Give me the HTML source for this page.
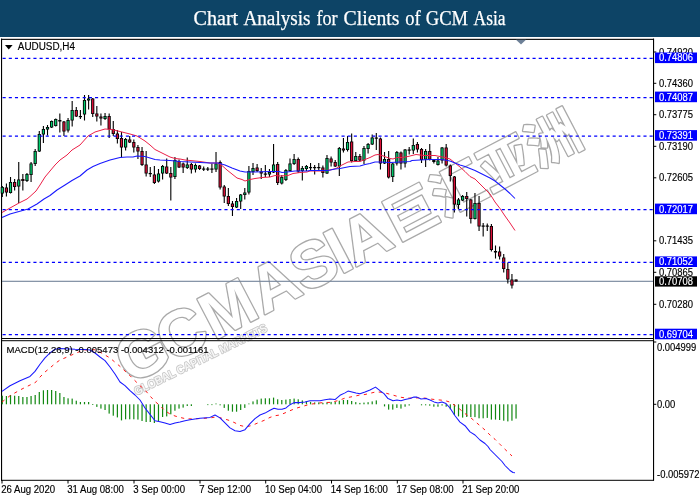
<!DOCTYPE html>
<html lang="en"><head><meta charset="utf-8"><title>Chart Analysis for Clients of GCM Asia</title>
<style>
html,body{margin:0;padding:0;background:#fff;}
body{width:700px;height:500px;position:relative;overflow:hidden;font-family:"Liberation Sans",sans-serif;}
#hdr{position:absolute;left:0;top:0;width:700px;height:36.8px;background:#0d4466;}
svg{position:absolute;left:0;top:0;}
.t{font-family:"Liberation Sans",sans-serif;font-size:9.45px;fill:#000;stroke:#000;stroke-width:0.15px;}
.w{font-family:"Liberation Sans",sans-serif;font-size:9.45px;fill:#fff;stroke:#fff;stroke-width:0.15px;}
</style></head><body>
<div id="hdr"></div>
<svg width="700" height="500" viewBox="0 0 700 500">

<text y="25" fill="#fff" stroke="#fff" stroke-width="0.25" style="font-family:'Liberation Serif',serif;font-size:20px"><tspan x="193.6" textLength="44.6" lengthAdjust="spacingAndGlyphs">Chart</tspan> <tspan x="243.4" textLength="67.2" lengthAdjust="spacingAndGlyphs">Analysis</tspan> <tspan x="316.5" textLength="21.1" lengthAdjust="spacingAndGlyphs">for</tspan> <tspan x="343.6" textLength="55.9" lengthAdjust="spacingAndGlyphs">Clients</tspan> <tspan x="405.2" textLength="15.4" lengthAdjust="spacingAndGlyphs">of</tspan> <tspan x="425.8" textLength="42.2" lengthAdjust="spacingAndGlyphs">GCM</tspan> <tspan x="473.6" textLength="32.0" lengthAdjust="spacingAndGlyphs">Asia</tspan></text>
<defs><filter id="soft" x="-5%" y="-5%" width="110%" height="110%"><feGaussianBlur stdDeviation="0.55"/></filter></defs>
<g filter="url(#soft)">
<g transform="matrix(0.8862 -0.4633 0.4633 0.8862 152.4 374.3)" font-family="'Liberation Sans','Noto Sans CJK SC',sans-serif" font-weight="bold" stroke-linejoin="round" fill="#fff" stroke="#a9a9a9" stroke-width="2.6" paint-order="stroke">
<text x="-24.8 21.4 70.4 125.9 172.4 212.8 229.1" y="-1" font-size="64.8">GCMASIA</text>
<text x="276.8 330.5 384.2 437.9" y="-4" font-size="53">巨汇亚洲</text>
</g>
<g transform="matrix(0.8973 -0.4415 0.4415 0.8973 152.4 374.3)" font-family="'Liberation Sans','Noto Sans CJK SC',sans-serif" font-weight="bold" stroke-linejoin="round" fill="#f6f6f6" stroke="#c4c4c4" stroke-width="1.6" paint-order="stroke">
<text x="-23.5" y="12" font-size="11.6" textLength="146.5" lengthAdjust="spacingAndGlyphs">GLOBAL CAPITAL MARKETS</text>
</g></g>
<g fill="#000">
<rect x="1" y="38.8" width="653" height="1.1"/>
<rect x="1" y="38.6" width="1.1" height="442"/>
<rect x="653" y="38.6" width="1.1" height="442"/>
<rect x="1" y="338" width="653" height="1"/>
<rect x="1" y="340.2" width="653" height="1"/>
<rect x="1" y="479.8" width="653" height="1"/>
</g>
<path d="M516 39.7 L526 39.7 L521 44.6 Z" fill="#6d8097"/>
<path d="M5 45 L12.6 45 L8.8 49.6 Z" fill="#000"/>
<text class="t" x="17.8" y="50.3" textLength="57.2" lengthAdjust="spacingAndGlyphs" style="font-size:10px">AUDUSD,H4</text>
<rect x="654" y="51.5" width="2.3" height="1" fill="#000"/>
<text class="t" transform="translate(659.00 55.60) scale(0.945 1)" style="font-size:10.0px">0.74920</text>
<rect x="654" y="82.8" width="2.3" height="1" fill="#000"/>
<text class="t" transform="translate(659.00 86.90) scale(0.945 1)" style="font-size:10.0px">0.74360</text>
<rect x="654" y="114.2" width="2.3" height="1" fill="#000"/>
<text class="t" transform="translate(659.00 118.30) scale(0.945 1)" style="font-size:10.0px">0.73775</text>
<rect x="654" y="145.8" width="2.3" height="1" fill="#000"/>
<text class="t" transform="translate(659.00 149.90) scale(0.945 1)" style="font-size:10.0px">0.73190</text>
<rect x="654" y="177.3" width="2.3" height="1" fill="#000"/>
<text class="t" transform="translate(659.00 181.40) scale(0.945 1)" style="font-size:10.0px">0.72605</text>
<rect x="654" y="240.3" width="2.3" height="1" fill="#000"/>
<text class="t" transform="translate(659.00 244.40) scale(0.945 1)" style="font-size:10.0px">0.71435</text>
<rect x="654" y="271.8" width="2.3" height="1" fill="#000"/>
<text class="t" transform="translate(659.00 275.90) scale(0.945 1)" style="font-size:10.0px">0.70865</text>
<rect x="654" y="303.8" width="2.3" height="1" fill="#000"/>
<text class="t" transform="translate(659.00 307.90) scale(0.945 1)" style="font-size:10.0px">0.70280</text>
<rect x="654" y="341.5" width="2.3" height="1" fill="#000"/>
<text class="t" transform="translate(657.00 351.10) scale(0.945 1)" style="font-size:10.0px">0.004999</text>
<rect x="654" y="403.8" width="2.3" height="1" fill="#000"/>
<text class="t" transform="translate(657.00 408.10) scale(0.945 1)" style="font-size:10.0px">0.00</text>
<text class="t" transform="translate(657.00 478.10) scale(0.945 1)" style="font-size:10.0px">-0.005972</text>
<rect x="655" y="52.50" width="42" height="10.6" fill="#0000ff"/>
<text class="w" transform="translate(659.00 61.45) scale(0.945 1)" style="font-size:10.0px">0.74806</text>
<rect x="655" y="91.60" width="42" height="10.6" fill="#0000ff"/>
<text class="w" transform="translate(659.00 100.55) scale(0.945 1)" style="font-size:10.0px">0.74087</text>
<rect x="655" y="130.10" width="42" height="10.6" fill="#0000ff"/>
<text class="w" transform="translate(659.00 139.05) scale(0.945 1)" style="font-size:10.0px">0.73391</text>
<rect x="655" y="203.60" width="42" height="10.6" fill="#0000ff"/>
<text class="w" transform="translate(659.00 212.55) scale(0.945 1)" style="font-size:10.0px">0.72017</text>
<rect x="655" y="256.40" width="42" height="10.6" fill="#0000ff"/>
<text class="w" transform="translate(659.00 265.35) scale(0.945 1)" style="font-size:10.0px">0.71052</text>
<rect x="655" y="328.70" width="42" height="10.6" fill="#0000ff"/>
<text class="w" transform="translate(659.00 337.65) scale(0.945 1)" style="font-size:10.0px">0.69704</text>
<rect x="655" y="276.3" width="42" height="10.3" fill="#000"/>
<text class="w" transform="translate(659.00 285.00) scale(0.945 1)" style="font-size:10.0px">0.70708</text>
<rect x="1.5" y="480" width="1" height="3.5" fill="#000"/>
<text class="t" transform="translate(1.20 492.60) scale(0.962 1)" style="font-size:10.0px">26 Aug 2020</text>
<rect x="67.5" y="480" width="1" height="3.5" fill="#000"/>
<text class="t" transform="translate(67.20 492.60) scale(0.962 1)" style="font-size:10.0px">31 Aug 08:00</text>
<rect x="133.5" y="480" width="1" height="3.5" fill="#000"/>
<text class="t" transform="translate(133.20 492.60) scale(0.962 1)" style="font-size:10.0px">3 Sep 00:00</text>
<rect x="199.5" y="480" width="1" height="3.5" fill="#000"/>
<text class="t" transform="translate(199.20 492.60) scale(0.962 1)" style="font-size:10.0px">7 Sep 12:00</text>
<rect x="265.2" y="480" width="1" height="3.5" fill="#000"/>
<text class="t" transform="translate(264.90 492.60) scale(0.962 1)" style="font-size:10.0px">10 Sep 04:00</text>
<rect x="331.0" y="480" width="1" height="3.5" fill="#000"/>
<text class="t" transform="translate(330.70 492.60) scale(0.962 1)" style="font-size:10.0px">14 Sep 16:00</text>
<rect x="396.8" y="480" width="1" height="3.5" fill="#000"/>
<text class="t" transform="translate(396.50 492.60) scale(0.962 1)" style="font-size:10.0px">17 Sep 08:00</text>
<rect x="462.5" y="480" width="1" height="3.5" fill="#000"/>
<text class="t" transform="translate(462.20 492.60) scale(0.962 1)" style="font-size:10.0px">21 Sep 20:00</text>
<rect x="2" y="280.75" width="651" height="1.1" fill="#73839a"/>
<rect x="1.75" y="186" width="1.1" height="11" fill="#000"/>
<rect x="0.7" y="187" width="3.2" height="6.5" fill="#000"/>
<rect x="1.6" y="187.8" width="1.4" height="4.9" fill="#00d070"/>
<rect x="5.86" y="183.5" width="1.1" height="13" fill="#000"/>
<rect x="4.81" y="187.5" width="3.2" height="5" fill="#000"/>
<rect x="5.71" y="188.3" width="1.4" height="3.4" fill="#dc1038"/>
<rect x="9.97" y="177" width="1.1" height="16.5" fill="#000"/>
<rect x="8.92" y="182" width="3.2" height="11" fill="#000"/>
<rect x="9.82" y="182.8" width="1.4" height="9.4" fill="#00d070"/>
<rect x="14.08" y="179" width="1.1" height="11.5" fill="#000"/>
<rect x="13.03" y="182" width="3.2" height="5" fill="#000"/>
<rect x="13.93" y="182.8" width="1.4" height="3.4" fill="#dc1038"/>
<rect x="18.19" y="162" width="1.1" height="41" fill="#000"/>
<rect x="17.14" y="179.5" width="3.2" height="7" fill="#000"/>
<rect x="18.04" y="180.3" width="1.4" height="5.4" fill="#00d070"/>
<rect x="22.3" y="174" width="1.1" height="16.5" fill="#000"/>
<rect x="21.25" y="179" width="3.2" height="2" fill="#000"/>
<rect x="22.15" y="179.8" width="1.4" height="0.4" fill="#dc1038"/>
<rect x="26.41" y="173" width="1.1" height="9" fill="#000"/>
<rect x="25.36" y="174" width="3.2" height="7" fill="#000"/>
<rect x="26.26" y="174.8" width="1.4" height="5.4" fill="#00d070"/>
<rect x="30.52" y="162" width="1.1" height="20" fill="#000"/>
<rect x="29.47" y="163.5" width="3.2" height="11.5" fill="#000"/>
<rect x="30.37" y="164.3" width="1.4" height="9.9" fill="#00d070"/>
<rect x="34.63" y="149" width="1.1" height="17" fill="#000"/>
<rect x="33.58" y="151" width="3.2" height="13" fill="#000"/>
<rect x="34.48" y="151.8" width="1.4" height="11.4" fill="#00d070"/>
<rect x="38.74" y="131" width="1.1" height="21" fill="#000"/>
<rect x="37.69" y="134" width="3.2" height="17.5" fill="#000"/>
<rect x="38.59" y="134.8" width="1.4" height="15.9" fill="#00d070"/>
<rect x="42.85" y="126" width="1.1" height="17" fill="#000"/>
<rect x="41.8" y="129" width="3.2" height="5.5" fill="#000"/>
<rect x="42.7" y="129.8" width="1.4" height="3.9" fill="#00d070"/>
<rect x="46.96" y="125" width="1.1" height="10.5" fill="#000"/>
<rect x="45.91" y="127" width="3.2" height="2.5" fill="#000"/>
<rect x="46.81" y="127.8" width="1.4" height="0.9" fill="#00d070"/>
<rect x="51.07" y="120.5" width="1.1" height="7.5" fill="#000"/>
<rect x="50.02" y="121" width="3.2" height="6.5" fill="#000"/>
<rect x="50.92" y="121.8" width="1.4" height="4.9" fill="#00d070"/>
<rect x="55.18" y="118.5" width="1.1" height="8" fill="#000"/>
<rect x="54.13" y="119" width="3.2" height="7" fill="#000"/>
<rect x="55.03" y="119.8" width="1.4" height="5.4" fill="#00d070"/>
<rect x="59.29" y="113.5" width="1.1" height="19" fill="#000"/>
<rect x="58.24" y="120" width="3.2" height="1.5" fill="#000"/>
<rect x="63.4" y="121" width="1.1" height="15" fill="#000"/>
<rect x="62.35" y="121.5" width="3.2" height="10" fill="#000"/>
<rect x="63.25" y="122.3" width="1.4" height="8.4" fill="#dc1038"/>
<rect x="67.51" y="118" width="1.1" height="14.5" fill="#000"/>
<rect x="66.46" y="120" width="3.2" height="10.5" fill="#000"/>
<rect x="67.36" y="120.8" width="1.4" height="8.9" fill="#00d070"/>
<rect x="71.62" y="101" width="1.1" height="25.5" fill="#000"/>
<rect x="70.57" y="110" width="3.2" height="10.5" fill="#000"/>
<rect x="71.47" y="110.8" width="1.4" height="8.9" fill="#00d070"/>
<rect x="75.73" y="107" width="1.1" height="10" fill="#000"/>
<rect x="74.68" y="110" width="3.2" height="6.5" fill="#000"/>
<rect x="75.58" y="110.8" width="1.4" height="4.9" fill="#dc1038"/>
<rect x="79.84" y="110" width="1.1" height="9" fill="#000"/>
<rect x="78.79" y="116" width="3.2" height="1.2" fill="#000"/>
<rect x="83.95" y="95" width="1.1" height="25.5" fill="#000"/>
<rect x="82.9" y="100" width="3.2" height="14.5" fill="#000"/>
<rect x="83.8" y="100.8" width="1.4" height="12.9" fill="#00d070"/>
<rect x="88.06" y="95" width="1.1" height="14.5" fill="#000"/>
<rect x="87.01" y="98.5" width="3.2" height="2" fill="#000"/>
<rect x="87.91" y="99.3" width="1.4" height="0.4" fill="#00d070"/>
<rect x="92.17" y="98" width="1.1" height="19" fill="#000"/>
<rect x="91.12" y="98.5" width="3.2" height="15.5" fill="#000"/>
<rect x="92.02" y="99.3" width="1.4" height="13.9" fill="#dc1038"/>
<rect x="96.28" y="106" width="1.1" height="15.5" fill="#000"/>
<rect x="95.23" y="113.5" width="3.2" height="3" fill="#000"/>
<rect x="96.13" y="114.3" width="1.4" height="1.4" fill="#dc1038"/>
<rect x="100.39" y="113.5" width="1.1" height="12" fill="#000"/>
<rect x="99.34" y="116.5" width="3.2" height="2" fill="#000"/>
<rect x="100.24" y="117.3" width="1.4" height="0.4" fill="#dc1038"/>
<rect x="104.5" y="113" width="1.1" height="7" fill="#000"/>
<rect x="103.45" y="116" width="3.2" height="3" fill="#000"/>
<rect x="104.35" y="116.8" width="1.4" height="1.4" fill="#00d070"/>
<rect x="108.61" y="113.5" width="1.1" height="24.5" fill="#000"/>
<rect x="107.56" y="116" width="3.2" height="13.5" fill="#000"/>
<rect x="108.46" y="116.8" width="1.4" height="11.9" fill="#dc1038"/>
<rect x="112.72" y="121" width="1.1" height="15" fill="#000"/>
<rect x="111.67" y="129" width="3.2" height="5" fill="#000"/>
<rect x="112.57" y="129.8" width="1.4" height="3.4" fill="#dc1038"/>
<rect x="116.83" y="130" width="1.1" height="13.5" fill="#000"/>
<rect x="115.78" y="133.5" width="3.2" height="5.5" fill="#000"/>
<rect x="116.68" y="134.3" width="1.4" height="3.9" fill="#dc1038"/>
<rect x="120.94" y="132" width="1.1" height="25.5" fill="#000"/>
<rect x="119.89" y="138" width="3.2" height="9.5" fill="#000"/>
<rect x="120.79" y="138.8" width="1.4" height="7.9" fill="#dc1038"/>
<rect x="125.05" y="138" width="1.1" height="12.5" fill="#000"/>
<rect x="124" y="139" width="3.2" height="8.5" fill="#000"/>
<rect x="124.9" y="139.8" width="1.4" height="6.9" fill="#00d070"/>
<rect x="129.16" y="136" width="1.1" height="7" fill="#000"/>
<rect x="128.11" y="139.5" width="3.2" height="3" fill="#000"/>
<rect x="129.01" y="140.3" width="1.4" height="1.4" fill="#dc1038"/>
<rect x="133.27" y="139.5" width="1.1" height="13" fill="#000"/>
<rect x="132.22" y="142" width="3.2" height="5.5" fill="#000"/>
<rect x="133.12" y="142.8" width="1.4" height="3.9" fill="#dc1038"/>
<rect x="137.38" y="145" width="1.1" height="14" fill="#000"/>
<rect x="136.33" y="147" width="3.2" height="4.5" fill="#000"/>
<rect x="137.23" y="147.8" width="1.4" height="2.9" fill="#dc1038"/>
<rect x="141.49" y="147" width="1.1" height="19" fill="#000"/>
<rect x="140.44" y="151" width="3.2" height="14" fill="#000"/>
<rect x="141.34" y="151.8" width="1.4" height="12.4" fill="#dc1038"/>
<rect x="145.6" y="151" width="1.1" height="25.5" fill="#000"/>
<rect x="144.55" y="164.5" width="3.2" height="9" fill="#000"/>
<rect x="145.45" y="165.3" width="1.4" height="7.4" fill="#dc1038"/>
<rect x="149.71" y="167" width="1.1" height="10" fill="#000"/>
<rect x="148.66" y="173" width="3.2" height="1.2" fill="#000"/>
<rect x="153.82" y="166" width="1.1" height="18" fill="#000"/>
<rect x="152.77" y="174.5" width="3.2" height="8.5" fill="#000"/>
<rect x="153.67" y="175.3" width="1.4" height="6.9" fill="#dc1038"/>
<rect x="157.93" y="169" width="1.1" height="13.5" fill="#000"/>
<rect x="156.88" y="173.5" width="3.2" height="8" fill="#000"/>
<rect x="157.78" y="174.3" width="1.4" height="6.4" fill="#00d070"/>
<rect x="162.04" y="165" width="1.1" height="14.5" fill="#000"/>
<rect x="160.99" y="166" width="3.2" height="7.5" fill="#000"/>
<rect x="161.89" y="166.8" width="1.4" height="5.9" fill="#00d070"/>
<rect x="166.15" y="158.5" width="1.1" height="15.5" fill="#000"/>
<rect x="165.1" y="166.5" width="3.2" height="7" fill="#000"/>
<rect x="166" y="167.3" width="1.4" height="5.4" fill="#dc1038"/>
<rect x="170.26" y="167" width="1.1" height="33.5" fill="#000"/>
<rect x="169.21" y="173" width="3.2" height="4.5" fill="#000"/>
<rect x="170.11" y="173.8" width="1.4" height="2.9" fill="#dc1038"/>
<rect x="174.37" y="157" width="1.1" height="22" fill="#000"/>
<rect x="173.32" y="160" width="3.2" height="17" fill="#000"/>
<rect x="174.22" y="160.8" width="1.4" height="15.4" fill="#00d070"/>
<rect x="178.48" y="159.5" width="1.1" height="8.5" fill="#000"/>
<rect x="177.43" y="161" width="3.2" height="6.5" fill="#000"/>
<rect x="178.33" y="161.8" width="1.4" height="4.9" fill="#dc1038"/>
<rect x="182.59" y="162.5" width="1.1" height="10.5" fill="#000"/>
<rect x="181.54" y="163.5" width="3.2" height="4" fill="#000"/>
<rect x="182.44" y="164.3" width="1.4" height="2.4" fill="#dc1038"/>
<rect x="186.7" y="157.5" width="1.1" height="11.5" fill="#000"/>
<rect x="185.65" y="164.5" width="3.2" height="3.5" fill="#000"/>
<rect x="186.55" y="165.3" width="1.4" height="1.9" fill="#00d070"/>
<rect x="190.81" y="163" width="1.1" height="10.5" fill="#000"/>
<rect x="189.76" y="164" width="3.2" height="5.5" fill="#000"/>
<rect x="190.66" y="164.8" width="1.4" height="3.9" fill="#dc1038"/>
<rect x="194.92" y="163.5" width="1.1" height="9" fill="#000"/>
<rect x="193.87" y="165" width="3.2" height="4.5" fill="#000"/>
<rect x="194.77" y="165.8" width="1.4" height="2.9" fill="#00d070"/>
<rect x="199.03" y="165" width="1.1" height="5" fill="#000"/>
<rect x="197.98" y="165.5" width="3.2" height="3.5" fill="#000"/>
<rect x="198.88" y="166.3" width="1.4" height="1.9" fill="#dc1038"/>
<rect x="203.14" y="166.5" width="1.1" height="4.5" fill="#000"/>
<rect x="202.09" y="168.5" width="3.2" height="1.2" fill="#000"/>
<rect x="207.25" y="167" width="1.1" height="4" fill="#000"/>
<rect x="206.2" y="168.5" width="3.2" height="1.2" fill="#000"/>
<rect x="211.36" y="163.5" width="1.1" height="9.5" fill="#000"/>
<rect x="210.31" y="168.5" width="3.2" height="1.2" fill="#000"/>
<rect x="215.47" y="152" width="1.1" height="20" fill="#000"/>
<rect x="214.42" y="163.5" width="3.2" height="6" fill="#000"/>
<rect x="215.32" y="164.3" width="1.4" height="4.4" fill="#00d070"/>
<rect x="219.58" y="160.5" width="1.1" height="29" fill="#000"/>
<rect x="218.53" y="162" width="3.2" height="25.5" fill="#000"/>
<rect x="219.43" y="162.8" width="1.4" height="23.9" fill="#dc1038"/>
<rect x="223.69" y="185" width="1.1" height="18" fill="#000"/>
<rect x="222.64" y="186.5" width="3.2" height="10" fill="#000"/>
<rect x="223.54" y="187.3" width="1.4" height="8.4" fill="#dc1038"/>
<rect x="227.8" y="188" width="1.1" height="18" fill="#000"/>
<rect x="226.75" y="196" width="3.2" height="8" fill="#000"/>
<rect x="227.65" y="196.8" width="1.4" height="6.4" fill="#dc1038"/>
<rect x="231.91" y="201" width="1.1" height="15" fill="#000"/>
<rect x="230.86" y="203.5" width="3.2" height="3.5" fill="#000"/>
<rect x="231.76" y="204.3" width="1.4" height="1.9" fill="#dc1038"/>
<rect x="236.02" y="198" width="1.1" height="10" fill="#000"/>
<rect x="234.97" y="201" width="3.2" height="6.5" fill="#000"/>
<rect x="235.87" y="201.8" width="1.4" height="4.9" fill="#00d070"/>
<rect x="240.13" y="194" width="1.1" height="15" fill="#000"/>
<rect x="239.08" y="194.5" width="3.2" height="7" fill="#000"/>
<rect x="239.98" y="195.3" width="1.4" height="5.4" fill="#00d070"/>
<rect x="244.24" y="188" width="1.1" height="11.5" fill="#000"/>
<rect x="243.19" y="192.5" width="3.2" height="2.5" fill="#000"/>
<rect x="244.09" y="193.3" width="1.4" height="0.9" fill="#00d070"/>
<rect x="248.35" y="166" width="1.1" height="28.5" fill="#000"/>
<rect x="247.3" y="171" width="3.2" height="21.5" fill="#000"/>
<rect x="248.2" y="171.8" width="1.4" height="19.9" fill="#00d070"/>
<rect x="252.46" y="163" width="1.1" height="12" fill="#000"/>
<rect x="251.41" y="168" width="3.2" height="4" fill="#000"/>
<rect x="252.31" y="168.8" width="1.4" height="2.4" fill="#00d070"/>
<rect x="256.57" y="164" width="1.1" height="8" fill="#000"/>
<rect x="255.52" y="167.5" width="3.2" height="3.5" fill="#000"/>
<rect x="256.42" y="168.3" width="1.4" height="1.9" fill="#dc1038"/>
<rect x="260.68" y="168" width="1.1" height="11" fill="#000"/>
<rect x="259.63" y="171.5" width="3.2" height="2" fill="#000"/>
<rect x="260.53" y="172.3" width="1.4" height="0.4" fill="#dc1038"/>
<rect x="264.79" y="165" width="1.1" height="12" fill="#000"/>
<rect x="263.74" y="173.5" width="3.2" height="1.2" fill="#000"/>
<rect x="268.9" y="169" width="1.1" height="8" fill="#000"/>
<rect x="267.85" y="172" width="3.2" height="2.5" fill="#000"/>
<rect x="268.75" y="172.8" width="1.4" height="0.9" fill="#00d070"/>
<rect x="273.01" y="144" width="1.1" height="29" fill="#000"/>
<rect x="271.96" y="164.5" width="3.2" height="8" fill="#000"/>
<rect x="272.86" y="165.3" width="1.4" height="6.4" fill="#00d070"/>
<rect x="277.12" y="162" width="1.1" height="23" fill="#000"/>
<rect x="276.07" y="164" width="3.2" height="19" fill="#000"/>
<rect x="276.97" y="164.8" width="1.4" height="17.4" fill="#dc1038"/>
<rect x="281.23" y="175" width="1.1" height="9.5" fill="#000"/>
<rect x="280.18" y="177" width="3.2" height="6.5" fill="#000"/>
<rect x="281.08" y="177.8" width="1.4" height="4.9" fill="#00d070"/>
<rect x="285.34" y="169" width="1.1" height="12" fill="#000"/>
<rect x="284.29" y="170" width="3.2" height="10" fill="#000"/>
<rect x="285.19" y="170.8" width="1.4" height="8.4" fill="#00d070"/>
<rect x="289.45" y="158.5" width="1.1" height="13" fill="#000"/>
<rect x="288.4" y="163.5" width="3.2" height="7.5" fill="#000"/>
<rect x="289.3" y="164.3" width="1.4" height="5.9" fill="#00d070"/>
<rect x="293.56" y="154" width="1.1" height="11" fill="#000"/>
<rect x="292.51" y="159" width="3.2" height="5" fill="#000"/>
<rect x="293.41" y="159.8" width="1.4" height="3.4" fill="#00d070"/>
<rect x="297.67" y="157.5" width="1.1" height="15.5" fill="#000"/>
<rect x="296.62" y="159" width="3.2" height="12.5" fill="#000"/>
<rect x="297.52" y="159.8" width="1.4" height="10.9" fill="#dc1038"/>
<rect x="301.78" y="166" width="1.1" height="14.5" fill="#000"/>
<rect x="300.73" y="168" width="3.2" height="3" fill="#000"/>
<rect x="301.63" y="168.8" width="1.4" height="1.4" fill="#00d070"/>
<rect x="305.89" y="165" width="1.1" height="6" fill="#000"/>
<rect x="304.84" y="166" width="3.2" height="3" fill="#000"/>
<rect x="305.74" y="166.8" width="1.4" height="1.4" fill="#00d070"/>
<rect x="310" y="163" width="1.1" height="7" fill="#000"/>
<rect x="308.95" y="167" width="3.2" height="1.2" fill="#000"/>
<rect x="314.11" y="165" width="1.1" height="9.5" fill="#000"/>
<rect x="313.06" y="167" width="3.2" height="1.2" fill="#000"/>
<rect x="318.22" y="163" width="1.1" height="8" fill="#000"/>
<rect x="317.17" y="167" width="3.2" height="1.2" fill="#000"/>
<rect x="322.33" y="165.5" width="1.1" height="12" fill="#000"/>
<rect x="321.28" y="167.5" width="3.2" height="5.5" fill="#000"/>
<rect x="322.18" y="168.3" width="1.4" height="3.9" fill="#dc1038"/>
<rect x="326.44" y="155" width="1.1" height="19" fill="#000"/>
<rect x="325.39" y="158" width="3.2" height="15.5" fill="#000"/>
<rect x="326.29" y="158.8" width="1.4" height="13.9" fill="#00d070"/>
<rect x="330.55" y="156.5" width="1.1" height="10" fill="#000"/>
<rect x="329.5" y="158.5" width="3.2" height="4" fill="#000"/>
<rect x="330.4" y="159.3" width="1.4" height="2.4" fill="#dc1038"/>
<rect x="334.66" y="160" width="1.1" height="7" fill="#000"/>
<rect x="333.61" y="162" width="3.2" height="4.5" fill="#000"/>
<rect x="334.51" y="162.8" width="1.4" height="2.9" fill="#dc1038"/>
<rect x="338.77" y="147" width="1.1" height="29" fill="#000"/>
<rect x="337.72" y="148" width="3.2" height="18.5" fill="#000"/>
<rect x="338.62" y="148.8" width="1.4" height="16.9" fill="#00d070"/>
<rect x="342.88" y="138" width="1.1" height="14.5" fill="#000"/>
<rect x="341.83" y="148.5" width="3.2" height="2" fill="#000"/>
<rect x="342.73" y="149.3" width="1.4" height="0.4" fill="#dc1038"/>
<rect x="346.99" y="136" width="1.1" height="15.5" fill="#000"/>
<rect x="345.94" y="142" width="3.2" height="8" fill="#000"/>
<rect x="346.84" y="142.8" width="1.4" height="6.4" fill="#00d070"/>
<rect x="351.1" y="133.5" width="1.1" height="29" fill="#000"/>
<rect x="350.05" y="141.5" width="3.2" height="19.5" fill="#000"/>
<rect x="350.95" y="142.3" width="1.4" height="17.9" fill="#dc1038"/>
<rect x="355.21" y="152" width="1.1" height="9.5" fill="#000"/>
<rect x="354.16" y="156" width="3.2" height="5" fill="#000"/>
<rect x="355.06" y="156.8" width="1.4" height="3.4" fill="#00d070"/>
<rect x="359.32" y="154" width="1.1" height="7.5" fill="#000"/>
<rect x="358.27" y="156" width="3.2" height="4.5" fill="#000"/>
<rect x="359.17" y="156.8" width="1.4" height="2.9" fill="#dc1038"/>
<rect x="363.43" y="146" width="1.1" height="18" fill="#000"/>
<rect x="362.38" y="148" width="3.2" height="12.5" fill="#000"/>
<rect x="363.28" y="148.8" width="1.4" height="10.9" fill="#00d070"/>
<rect x="367.54" y="143" width="1.1" height="10.5" fill="#000"/>
<rect x="366.49" y="144" width="3.2" height="5" fill="#000"/>
<rect x="367.39" y="144.8" width="1.4" height="3.4" fill="#00d070"/>
<rect x="371.65" y="134.5" width="1.1" height="10.5" fill="#000"/>
<rect x="370.6" y="137.5" width="3.2" height="7" fill="#000"/>
<rect x="371.5" y="138.3" width="1.4" height="5.4" fill="#00d070"/>
<rect x="375.76" y="133" width="1.1" height="17" fill="#000"/>
<rect x="374.71" y="137.5" width="3.2" height="1.2" fill="#000"/>
<rect x="379.87" y="137.5" width="1.1" height="32" fill="#000"/>
<rect x="378.82" y="138.5" width="3.2" height="25" fill="#000"/>
<rect x="379.72" y="139.3" width="1.4" height="23.4" fill="#dc1038"/>
<rect x="383.98" y="152" width="1.1" height="12" fill="#000"/>
<rect x="382.93" y="159" width="3.2" height="4.5" fill="#000"/>
<rect x="383.83" y="159.8" width="1.4" height="2.9" fill="#00d070"/>
<rect x="388.09" y="151" width="1.1" height="27.5" fill="#000"/>
<rect x="387.04" y="159" width="3.2" height="18.5" fill="#000"/>
<rect x="387.94" y="159.8" width="1.4" height="16.9" fill="#dc1038"/>
<rect x="392.2" y="163" width="1.1" height="19" fill="#000"/>
<rect x="391.15" y="163.5" width="3.2" height="13.5" fill="#000"/>
<rect x="392.05" y="164.3" width="1.4" height="11.9" fill="#00d070"/>
<rect x="396.31" y="151" width="1.1" height="14.5" fill="#000"/>
<rect x="395.26" y="152" width="3.2" height="11.5" fill="#000"/>
<rect x="396.16" y="152.8" width="1.4" height="9.9" fill="#00d070"/>
<rect x="400.42" y="151.5" width="1.1" height="18" fill="#000"/>
<rect x="399.37" y="152.5" width="3.2" height="11" fill="#000"/>
<rect x="400.27" y="153.3" width="1.4" height="9.4" fill="#dc1038"/>
<rect x="404.53" y="149" width="1.1" height="18.5" fill="#000"/>
<rect x="403.48" y="149.5" width="3.2" height="14" fill="#000"/>
<rect x="404.38" y="150.3" width="1.4" height="12.4" fill="#00d070"/>
<rect x="408.64" y="147" width="1.1" height="7.5" fill="#000"/>
<rect x="407.59" y="149.5" width="3.2" height="1.2" fill="#000"/>
<rect x="412.75" y="138.5" width="1.1" height="15.5" fill="#000"/>
<rect x="411.7" y="145" width="3.2" height="5.5" fill="#000"/>
<rect x="412.6" y="145.8" width="1.4" height="3.9" fill="#00d070"/>
<rect x="416.86" y="142" width="1.1" height="10.5" fill="#000"/>
<rect x="415.81" y="144" width="3.2" height="5.5" fill="#000"/>
<rect x="416.71" y="144.8" width="1.4" height="3.9" fill="#dc1038"/>
<rect x="420.97" y="148" width="1.1" height="15" fill="#000"/>
<rect x="419.92" y="149" width="3.2" height="11" fill="#000"/>
<rect x="420.82" y="149.8" width="1.4" height="9.4" fill="#dc1038"/>
<rect x="425.08" y="149" width="1.1" height="18" fill="#000"/>
<rect x="424.03" y="151" width="3.2" height="8.5" fill="#000"/>
<rect x="424.93" y="151.8" width="1.4" height="6.9" fill="#00d070"/>
<rect x="429.19" y="144" width="1.1" height="16.5" fill="#000"/>
<rect x="428.14" y="151" width="3.2" height="8.5" fill="#000"/>
<rect x="429.04" y="151.8" width="1.4" height="6.9" fill="#dc1038"/>
<rect x="433.3" y="160" width="1.1" height="3.5" fill="#000"/>
<rect x="432.25" y="160" width="3.2" height="2" fill="#000"/>
<rect x="437.41" y="157" width="1.1" height="8.5" fill="#000"/>
<rect x="436.36" y="160.5" width="3.2" height="4.5" fill="#000"/>
<rect x="437.26" y="161.3" width="1.4" height="2.9" fill="#00d070"/>
<rect x="441.52" y="147" width="1.1" height="16.5" fill="#000"/>
<rect x="440.47" y="147.5" width="3.2" height="13" fill="#000"/>
<rect x="441.37" y="148.3" width="1.4" height="11.4" fill="#00d070"/>
<rect x="445.63" y="144" width="1.1" height="22.5" fill="#000"/>
<rect x="444.58" y="147.5" width="3.2" height="18" fill="#000"/>
<rect x="445.48" y="148.3" width="1.4" height="16.4" fill="#dc1038"/>
<rect x="449.74" y="164.5" width="1.1" height="17" fill="#000"/>
<rect x="448.69" y="165.5" width="3.2" height="10.5" fill="#000"/>
<rect x="449.59" y="166.3" width="1.4" height="8.9" fill="#dc1038"/>
<rect x="453.85" y="176" width="1.1" height="36.5" fill="#000"/>
<rect x="452.8" y="176.5" width="3.2" height="28" fill="#000"/>
<rect x="453.7" y="177.3" width="1.4" height="26.4" fill="#dc1038"/>
<rect x="457.96" y="198" width="1.1" height="11" fill="#000"/>
<rect x="456.91" y="199.5" width="3.2" height="5.5" fill="#000"/>
<rect x="457.81" y="200.3" width="1.4" height="3.9" fill="#00d070"/>
<rect x="462.07" y="195" width="1.1" height="6" fill="#000"/>
<rect x="461.02" y="196" width="3.2" height="4.5" fill="#000"/>
<rect x="461.92" y="196.8" width="1.4" height="2.9" fill="#00d070"/>
<rect x="466.18" y="192" width="1.1" height="24.5" fill="#000"/>
<rect x="465.13" y="196" width="3.2" height="3" fill="#000"/>
<rect x="466.03" y="196.8" width="1.4" height="1.4" fill="#dc1038"/>
<rect x="470.29" y="199" width="1.1" height="24.5" fill="#000"/>
<rect x="469.24" y="199.5" width="3.2" height="19.5" fill="#000"/>
<rect x="470.14" y="200.3" width="1.4" height="17.9" fill="#dc1038"/>
<rect x="474.4" y="193" width="1.1" height="26.5" fill="#000"/>
<rect x="473.35" y="203" width="3.2" height="16" fill="#000"/>
<rect x="474.25" y="203.8" width="1.4" height="14.4" fill="#00d070"/>
<rect x="478.51" y="196" width="1.1" height="35" fill="#000"/>
<rect x="477.46" y="203" width="3.2" height="23.5" fill="#000"/>
<rect x="478.36" y="203.8" width="1.4" height="21.9" fill="#dc1038"/>
<rect x="482.62" y="223" width="1.1" height="13.5" fill="#000"/>
<rect x="481.57" y="225.5" width="3.2" height="1.2" fill="#000"/>
<rect x="486.73" y="223.5" width="1.1" height="7.5" fill="#000"/>
<rect x="485.68" y="225.5" width="3.2" height="1.2" fill="#000"/>
<rect x="490.84" y="224" width="1.1" height="27.5" fill="#000"/>
<rect x="489.79" y="226" width="3.2" height="24" fill="#000"/>
<rect x="490.69" y="226.8" width="1.4" height="22.4" fill="#dc1038"/>
<rect x="494.95" y="245.5" width="1.1" height="13" fill="#000"/>
<rect x="493.9" y="251" width="3.2" height="1.5" fill="#000"/>
<rect x="499.06" y="246.5" width="1.1" height="13" fill="#000"/>
<rect x="498.01" y="251.5" width="3.2" height="5" fill="#000"/>
<rect x="498.91" y="252.3" width="1.4" height="3.4" fill="#dc1038"/>
<rect x="503.17" y="254" width="1.1" height="18.5" fill="#000"/>
<rect x="502.12" y="257.5" width="3.2" height="11.5" fill="#000"/>
<rect x="503.02" y="258.3" width="1.4" height="9.9" fill="#dc1038"/>
<rect x="507.28" y="262.5" width="1.1" height="21" fill="#000"/>
<rect x="506.23" y="269" width="3.2" height="10.5" fill="#000"/>
<rect x="507.13" y="269.8" width="1.4" height="8.9" fill="#dc1038"/>
<rect x="511.39" y="274" width="1.1" height="14.5" fill="#000"/>
<rect x="510.34" y="279.5" width="3.2" height="6" fill="#000"/>
<rect x="511.24" y="280.3" width="1.4" height="4.4" fill="#dc1038"/>
<rect x="515.5" y="279.5" width="1.1" height="2" fill="#000"/>
<rect x="514.45" y="279.5" width="3.2" height="2" fill="#000"/>
<rect x="515.35" y="280.3" width="1.4" height="0.4" fill="#dc1038"/>
<path d="M2 212.5 L10 208 L19 203 L27 199 L30 196.5 L36 191 L40 185 L45 177 L50 171 L55 165 L60 160 L67 155 L72 150 L80 145 L88 136 L95 132 L105 129 L112 129.5 L120 131.5 L130 134 L137 136 L145 141 L150 145 L155 149.5 L160 152 L165 154.5 L170 157 L175 158.5 L180 159 L185 160 L190 160.5 L200 161.5 L210 163 L218 163 L222 165.5 L227 170 L232 174 L237 178 L242 179.5 L245 181 L250 179.5 L255 178.5 L262 177.5 L270 177 L275 175.5 L280 176 L288 175.5 L293 173.5 L300 172.5 L307 172 L310 171 L320 171 L330 170 L336 168.5 L340 166 L345 163.5 L348 162 L355 161.5 L360 161.5 L365 159.5 L370 157.5 L375 155 L378 154.5 L382 155.5 L386 157 L390 158.5 L393 159 L397 157.5 L402 157.5 L408 156.5 L412 155.5 L416 154.5 L420 155 L425 155.5 L435 155.5 L440 156.5 L445 157.5 L450 159 L455 163 L460 167 L465 171.5 L470 176.5 L475 179 L480 184 L485 189 L490 194 L495 202 L500 208.5 L505 216 L510 223 L515 230.5" fill="none" stroke="#ec2048" stroke-width="1.0" stroke-linejoin="round"/>
<path d="M2 217.5 L10 214 L19 211.5 L28 209 L37 204 L44 199 L50 195.5 L57 190 L65 185 L72 180.5 L80 176 L87 170 L93 166.5 L100 163.5 L110 160 L120 157.5 L127 157 L133 157 L137 156 L145 156.5 L150 158 L155 159.5 L160 160 L170 160.5 L180 161.5 L190 162 L200 162.5 L210 163 L218 163 L225 165 L232 168 L240 171 L245 172 L255 172 L270 171.5 L279 171.5 L282 172.5 L287 172 L295 171 L307 171 L310 170.5 L320 170.5 L328 170.5 L335 169 L340 168.5 L345 167.5 L350 166.5 L360 166 L365 164.5 L370 163.5 L375 162 L380 162 L390 162.5 L400 162 L410 161.5 L412 160.5 L420 160 L430 159.5 L440 159.5 L445 160 L450 161 L455 163 L460 165 L465 166.5 L470 168.5 L475 170.5 L480 173 L485 175.5 L490 178 L495 181 L500 185 L505 189 L510 193.5 L515 198.5" fill="none" stroke="#1818ff" stroke-width="1.05" stroke-linejoin="round"/>
<g stroke="#0000ff" stroke-width="1.25" stroke-dasharray="3.1 3.062" fill="none">
<path d="M2.6 58.4 H653"/>
<path d="M2.6 97.5 H653"/>
<path d="M2.6 136 H653"/>
<path d="M2.6 209.5 H653"/>
<path d="M2.6 262.3 H653"/>
<path d="M2.6 334.6 H653"/>
</g>
<rect x="1.7" y="395.7" width="1.2" height="8.6" fill="#118811"/>
<rect x="5.81" y="396" width="1.2" height="8.3" fill="#118811"/>
<rect x="9.92" y="395" width="1.2" height="9.3" fill="#118811"/>
<rect x="14.03" y="395.7" width="1.2" height="8.6" fill="#118811"/>
<rect x="18.14" y="396" width="1.2" height="8.3" fill="#118811"/>
<rect x="22.25" y="397" width="1.2" height="7.3" fill="#118811"/>
<rect x="26.36" y="397" width="1.2" height="7.3" fill="#118811"/>
<rect x="30.47" y="396" width="1.2" height="8.3" fill="#118811"/>
<rect x="34.58" y="395" width="1.2" height="9.3" fill="#118811"/>
<rect x="38.69" y="392" width="1.2" height="12.3" fill="#118811"/>
<rect x="42.8" y="390.3" width="1.2" height="14" fill="#118811"/>
<rect x="46.91" y="390" width="1.2" height="14.3" fill="#118811"/>
<rect x="51.02" y="390" width="1.2" height="14.3" fill="#118811"/>
<rect x="55.13" y="391" width="1.2" height="13.3" fill="#118811"/>
<rect x="59.24" y="393" width="1.2" height="11.3" fill="#118811"/>
<rect x="63.35" y="397" width="1.2" height="7.3" fill="#118811"/>
<rect x="67.46" y="398.3" width="1.2" height="6" fill="#118811"/>
<rect x="71.57" y="398.6" width="1.2" height="5.7" fill="#118811"/>
<rect x="75.68" y="400.7" width="1.2" height="3.6" fill="#118811"/>
<rect x="79.79" y="402" width="1.2" height="2.3" fill="#118811"/>
<rect x="83.9" y="402" width="1.2" height="2.3" fill="#118811"/>
<rect x="88.01" y="402" width="1.2" height="2.3" fill="#118811"/>
<rect x="92.12" y="404" width="1.2" height="0.8" fill="#118811"/>
<rect x="96.23" y="404.3" width="1.2" height="2.6" fill="#118811"/>
<rect x="100.34" y="404.3" width="1.2" height="4.3" fill="#118811"/>
<rect x="104.45" y="404.3" width="1.2" height="5.7" fill="#118811"/>
<rect x="108.56" y="404.3" width="1.2" height="9.3" fill="#118811"/>
<rect x="112.67" y="404.3" width="1.2" height="11.4" fill="#118811"/>
<rect x="116.78" y="404.3" width="1.2" height="13.1" fill="#118811"/>
<rect x="120.89" y="404.3" width="1.2" height="16.1" fill="#118811"/>
<rect x="125" y="404.3" width="1.2" height="15" fill="#118811"/>
<rect x="129.11" y="404.3" width="1.2" height="15" fill="#118811"/>
<rect x="133.22" y="404.3" width="1.2" height="15" fill="#118811"/>
<rect x="137.33" y="404.3" width="1.2" height="15.3" fill="#118811"/>
<rect x="141.44" y="404.3" width="1.2" height="16.7" fill="#118811"/>
<rect x="145.55" y="404.3" width="1.2" height="17.7" fill="#118811"/>
<rect x="149.66" y="404.3" width="1.2" height="17.7" fill="#118811"/>
<rect x="153.77" y="404.3" width="1.2" height="18.7" fill="#118811"/>
<rect x="157.88" y="404.3" width="1.2" height="16.7" fill="#118811"/>
<rect x="161.99" y="404.3" width="1.2" height="12.7" fill="#118811"/>
<rect x="166.1" y="404.3" width="1.2" height="12.1" fill="#118811"/>
<rect x="170.21" y="404.3" width="1.2" height="10" fill="#118811"/>
<rect x="174.32" y="404.3" width="1.2" height="6.4" fill="#118811"/>
<rect x="178.43" y="404.3" width="1.2" height="4.3" fill="#118811"/>
<rect x="182.54" y="404.3" width="1.2" height="3.3" fill="#118811"/>
<rect x="186.65" y="404.3" width="1.2" height="1.7" fill="#118811"/>
<rect x="190.76" y="404.3" width="1.2" height="1.7" fill="#118811"/>
<rect x="207.2" y="404.3" width="1.2" height="0.8" fill="#118811"/>
<rect x="211.31" y="404.3" width="1.2" height="0.8" fill="#118811"/>
<rect x="215.42" y="403.5" width="1.2" height="0.8" fill="#118811"/>
<rect x="219.53" y="404.3" width="1.2" height="1" fill="#118811"/>
<rect x="223.64" y="404.3" width="1.2" height="3.6" fill="#118811"/>
<rect x="227.75" y="404.3" width="1.2" height="6.4" fill="#118811"/>
<rect x="231.86" y="404.3" width="1.2" height="7.4" fill="#118811"/>
<rect x="235.97" y="404.3" width="1.2" height="7.4" fill="#118811"/>
<rect x="240.08" y="404.3" width="1.2" height="5.7" fill="#118811"/>
<rect x="244.19" y="404.3" width="1.2" height="3.6" fill="#118811"/>
<rect x="248.3" y="403.5" width="1.2" height="0.8" fill="#118811"/>
<rect x="252.41" y="401.4" width="1.2" height="2.9" fill="#118811"/>
<rect x="256.52" y="399.6" width="1.2" height="4.7" fill="#118811"/>
<rect x="260.63" y="398.6" width="1.2" height="5.7" fill="#118811"/>
<rect x="264.74" y="398.3" width="1.2" height="6" fill="#118811"/>
<rect x="268.85" y="398.3" width="1.2" height="6" fill="#118811"/>
<rect x="272.96" y="397.6" width="1.2" height="6.7" fill="#118811"/>
<rect x="277.07" y="399.3" width="1.2" height="5" fill="#118811"/>
<rect x="281.18" y="400" width="1.2" height="4.3" fill="#118811"/>
<rect x="285.29" y="399.6" width="1.2" height="4.7" fill="#118811"/>
<rect x="289.4" y="399" width="1.2" height="5.3" fill="#118811"/>
<rect x="293.51" y="398.6" width="1.2" height="5.7" fill="#118811"/>
<rect x="297.62" y="399.3" width="1.2" height="5" fill="#118811"/>
<rect x="301.73" y="400.4" width="1.2" height="3.9" fill="#118811"/>
<rect x="305.84" y="401" width="1.2" height="3.3" fill="#118811"/>
<rect x="309.95" y="401.9" width="1.2" height="2.4" fill="#118811"/>
<rect x="314.06" y="402.4" width="1.2" height="1.9" fill="#118811"/>
<rect x="318.17" y="402.4" width="1.2" height="1.9" fill="#118811"/>
<rect x="322.28" y="402.9" width="1.2" height="1.4" fill="#118811"/>
<rect x="326.39" y="402.4" width="1.2" height="1.9" fill="#118811"/>
<rect x="330.5" y="401.9" width="1.2" height="2.4" fill="#118811"/>
<rect x="334.61" y="401.9" width="1.2" height="2.4" fill="#118811"/>
<rect x="338.72" y="400.7" width="1.2" height="3.6" fill="#118811"/>
<rect x="342.83" y="400" width="1.2" height="4.3" fill="#118811"/>
<rect x="346.94" y="400" width="1.2" height="4.3" fill="#118811"/>
<rect x="351.05" y="401" width="1.2" height="3.3" fill="#118811"/>
<rect x="355.16" y="402.1" width="1.2" height="2.2" fill="#118811"/>
<rect x="359.27" y="402.9" width="1.2" height="1.4" fill="#118811"/>
<rect x="363.38" y="402.6" width="1.2" height="1.7" fill="#118811"/>
<rect x="367.49" y="402.2" width="1.2" height="2.1" fill="#118811"/>
<rect x="371.6" y="401.4" width="1.2" height="2.9" fill="#118811"/>
<rect x="375.71" y="400.4" width="1.2" height="3.9" fill="#118811"/>
<rect x="383.93" y="404.3" width="1.2" height="2.1" fill="#118811"/>
<rect x="388.04" y="404.3" width="1.2" height="5.3" fill="#118811"/>
<rect x="392.15" y="404.3" width="1.2" height="5.3" fill="#118811"/>
<rect x="396.26" y="404.3" width="1.2" height="3.6" fill="#118811"/>
<rect x="400.37" y="404.3" width="1.2" height="4.3" fill="#118811"/>
<rect x="404.48" y="404.3" width="1.2" height="2.4" fill="#118811"/>
<rect x="408.59" y="404.3" width="1.2" height="1.2" fill="#118811"/>
<rect x="420.92" y="404.3" width="1.2" height="1" fill="#118811"/>
<rect x="425.03" y="404.3" width="1.2" height="1" fill="#118811"/>
<rect x="429.14" y="404.3" width="1.2" height="1.4" fill="#118811"/>
<rect x="433.25" y="404.3" width="1.2" height="2.4" fill="#118811"/>
<rect x="437.36" y="404.3" width="1.2" height="2.4" fill="#118811"/>
<rect x="441.47" y="404.3" width="1.2" height="1.2" fill="#118811"/>
<rect x="445.58" y="404.3" width="1.2" height="2.4" fill="#118811"/>
<rect x="449.69" y="404.3" width="1.2" height="5" fill="#118811"/>
<rect x="453.8" y="404.3" width="1.2" height="10.7" fill="#118811"/>
<rect x="457.91" y="404.3" width="1.2" height="12.1" fill="#118811"/>
<rect x="462.02" y="404.3" width="1.2" height="13.3" fill="#118811"/>
<rect x="466.13" y="404.3" width="1.2" height="12.7" fill="#118811"/>
<rect x="470.24" y="404.3" width="1.2" height="12.8" fill="#118811"/>
<rect x="474.35" y="404.3" width="1.2" height="12.8" fill="#118811"/>
<rect x="478.46" y="404.3" width="1.2" height="14" fill="#118811"/>
<rect x="482.57" y="404.3" width="1.2" height="14" fill="#118811"/>
<rect x="486.68" y="404.3" width="1.2" height="13.6" fill="#118811"/>
<rect x="490.79" y="404.3" width="1.2" height="15.3" fill="#118811"/>
<rect x="494.9" y="404.3" width="1.2" height="15.3" fill="#118811"/>
<rect x="499.01" y="404.3" width="1.2" height="15.7" fill="#118811"/>
<rect x="503.12" y="404.3" width="1.2" height="16.4" fill="#118811"/>
<rect x="507.23" y="404.3" width="1.2" height="17.1" fill="#118811"/>
<rect x="511.34" y="404.3" width="1.2" height="16.4" fill="#118811"/>
<rect x="515.45" y="404.3" width="1.2" height="14.3" fill="#118811"/>
<path d="M2 402 L10 395.7 L20 390 L30 385 L35 382.9 L40 377 L45 372 L50 367.9 L55 363.6 L60 360 L65 357.9 L70 355.7 L75 353.6 L80 351.4 L85 350 L90 349.5 L95 349.8 L100 352 L110 358 L120 366.4 L130 375.7 L140 385.7 L145 390 L150 396 L155 401.4 L160 405.7 L165 410.7 L170 414 L175 416 L180 417.4 L185 418.6 L190 418.9 L200 418.6 L210 417.9 L217 416.9 L222 418.3 L228 420 L234 422.4 L240 425.4 L246 426.9 L252 425.4 L258 422.9 L265 420 L270 417.4 L275 415.7 L280 415 L285 412.9 L290 410.7 L295 408.6 L300 407.1 L305 405.7 L310 404.3 L315 403.6 L320 402.9 L325 402.5 L330 402.4 L335 401.4 L340 400 L345 398.1 L350 397.1 L355 396.1 L360 395 L365 394.5 L370 393.3 L375 392.1 L380 392.1 L385 392.9 L390 394.3 L395 395.7 L400 397.1 L405 397.9 L410 398.1 L415 397.9 L420 397.9 L425 398.1 L430 398.9 L435 399.6 L440 400 L445 400.6 L450 402.1 L455 405.5 L460 409.3 L465 413.6 L470 417.1 L475 421.4 L480 425.7 L485 430 L490 435 L495 439.3 L500 444.3 L505 449.3 L512 456" fill="none" stroke="#ff1818" stroke-width="1.0" stroke-dasharray="3.2 4.4"/>
<path d="M2 391.4 L10 385.7 L20 380.7 L30 376.4 L35 371.4 L40 364.3 L45 357.9 L50 352.9 L55 349.3 L60 348.6 L65 348.7 L70 348.9 L75 349.3 L80 349.5 L85 349.5 L90 350 L95 353 L100 357 L105 360.7 L110 367 L115 374 L120 382 L125 385.7 L130 390.7 L135 395 L140 400 L145 408 L150 414.3 L155 420.7 L160 421.7 L165 422.9 L170 424.6 L175 422.9 L180 421.9 L185 420.7 L190 419.7 L200 418.3 L210 417.4 L215 415 L220 417.9 L225 422.9 L230 427.9 L235 430.7 L240 431.4 L245 429.7 L250 423.6 L255 418.6 L260 415 L265 413.1 L270 410.3 L274 408.3 L278 409.3 L282 409.3 L286 407.9 L290 404.7 L294 402.6 L300 402.6 L305 402.1 L310 400.7 L320 400.7 L325 399.7 L330 398.9 L335 399.6 L340 395.3 L345 392.9 L348 391.1 L352 391.9 L356 393.1 L360 393.8 L365 392.1 L370 390 L375.5 387.1 L380 390.7 L384 393.6 L388 398.6 L393 400.7 L397 400 L401 400.7 L405 399.6 L410 398.6 L414 397.1 L417 397.1 L421 399 L426 398.6 L430 400 L434 401.9 L438 402.9 L442 401.9 L446 403.6 L450 408 L455 415.7 L460 422.1 L465 425.7 L470 431.9 L475 435 L480 440 L485 443.5 L488 446.5 L490 449.5 L495 454.5 L500 459.5 L502 461.5 L505 465.5 L510 470.5 L513 472.5 L515 472.7" fill="none" stroke="#1818ff" stroke-width="1.05" stroke-linejoin="round"/>
<text class="t" x="6.6" y="352.9" textLength="202" lengthAdjust="spacingAndGlyphs" style="font-size:9.6px">MACD(12,26,9) -0.005473 -0.004312 -0.001161</text>
</svg></body></html>
